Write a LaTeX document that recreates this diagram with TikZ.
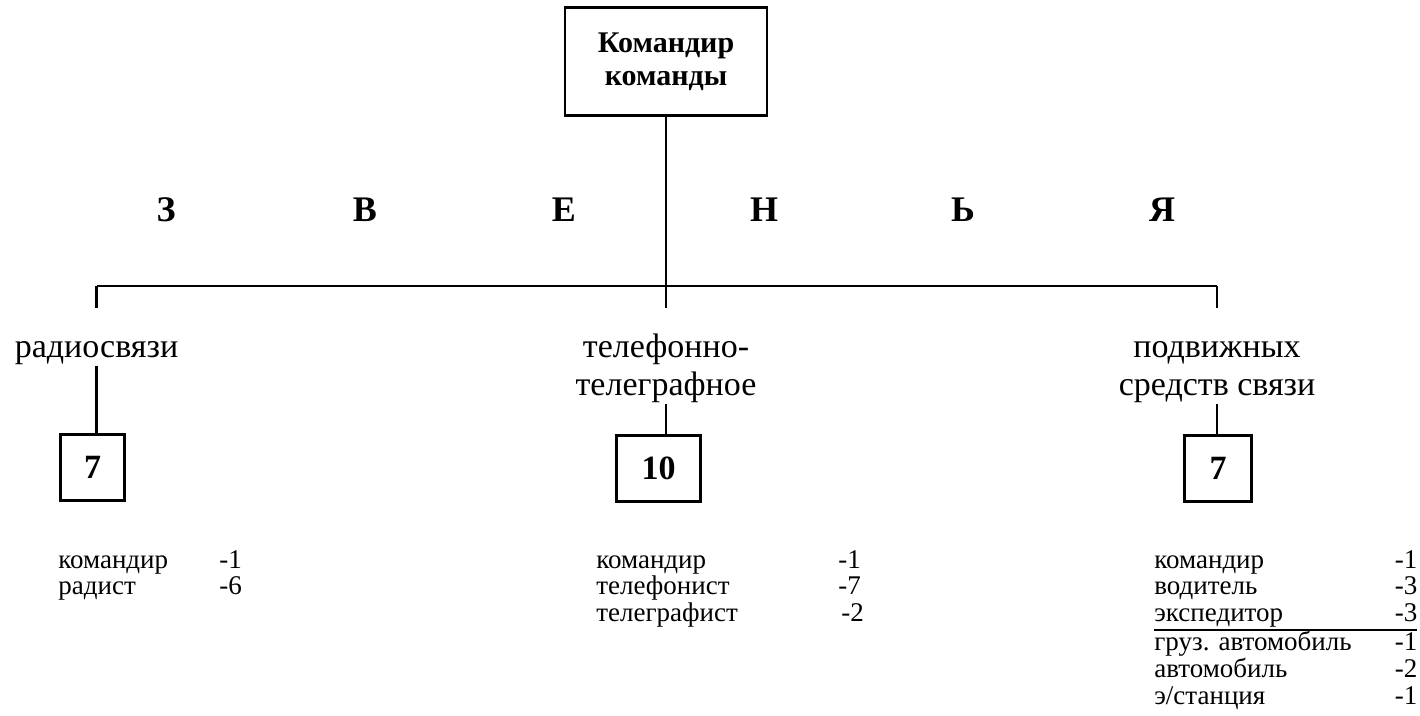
\documentclass[tikz,border=0pt]{standalone}
\usepackage{fontspec}
\setmainfont{Liberation Serif}
\usetikzlibrary{positioning}
\tikzset{
  headbox/.style={draw, inner sep=0pt, align=center, minimum width=101pt, minimum height=54pt,
    font=\fontsize{15}{16.5}\selectfont\bfseries},
  unitbox/.style={draw, inner sep=0pt, minimum height=33pt, font=\fontsize{17}{20}\selectfont\bfseries},
  letter/.style={inner sep=0pt, font=\fontsize{18}{20}\selectfont\bfseries},
  branch/.style={inner sep=0pt, anchor=south, align=center, font=\fontsize{17}{19}\selectfont},
  staff/.style={inner sep=0pt, anchor=base west, font=\fontsize{13.5}{13.3}\selectfont}
}

\begin{document}
\begin{tikzpicture}[x=0.5pt, y=-0.5pt, line width=1.4pt]
        \useasboundingbox (0,0) rectangle (1420,716);
        \node[headbox] (top) at (666,61.5) {Командир\\команды};
        % буквы
        \node[letter] (z) at (166,210) {З};
        \node[letter] (v) at (365,210) {В};
        \node[letter] (e) at (564,210) {Е};
        \node[letter] (n) at (764,210) {Н};
        \node[letter] (soft) at (963,210) {Ь};
        \node[letter] (ya) at (1162,210) {Я};
        \coordinate (hl) at (96.5,286);
        \coordinate (hm) at (666,286);
        \coordinate (hr) at (1217,286);
        \coordinate (dl) at (96.5,308);
        \coordinate (dm) at (666,308);
        \coordinate (dr) at (1217,308);
        \draw (top.south) -- (hm);
        \draw (hl) -- (hr);
        \draw (hl) -- (dl);
        \draw (hm) -- (dm);
        \draw (hr) -- (dr);
        \node[branch] (radio) at (96.5,366) {радиосвязи};
        \node[branch] (phone) at (666,404) {телефонно-\\телеграфное};
        \node[branch] (mobile) at (1217,404) {подвижных\\средств связи};
        \node[unitbox, minimum width=32pt] (radio7) at (92.5,467.5) {7};
        \node[unitbox, minimum width=42pt] (phone10) at (658.5,468.5) {10};
        \node[unitbox, minimum width=33.5pt] (mobile7) at (1218,468.5) {7};
        \draw (radio.south) -- (radio.south |- radio7.north);
        \draw (phone.south) -- (phone.south |- phone10.north);
        \draw (mobile.south) -- (mobile.south |- mobile7.north);
        % состав
        \node[staff] (radiolist) at (57,568) {\begin{tabular}[t]{@{}p{80.5pt}@{}l@{}}
            командир & -1\\
            радист & -6
          \end{tabular}};
        \node[staff] (phonelist) at (595,568) {\begin{tabular}[t]{@{}p{121pt}@{}l@{}}
            командир & -1\\
            телефонист & -7\\
            телеграфист & \hspace{1.5pt}-2
          \end{tabular}};
        \node[staff] (mobilelist) at (1153,568) {\setlength{\arrayrulewidth}{1pt}%
          \begin{tabular*}{131.5pt}[t]{@{}l@{\extracolsep{\fill}}r@{}}
            командир & -1\\
            водитель & -3\\
            экспедитор & -3\\ \hline
            груз. автомобиль & -1\\
            автомобиль & -2\\
            э/станция & -1
          \end{tabular*}};
\end{tikzpicture}
\end{document}
